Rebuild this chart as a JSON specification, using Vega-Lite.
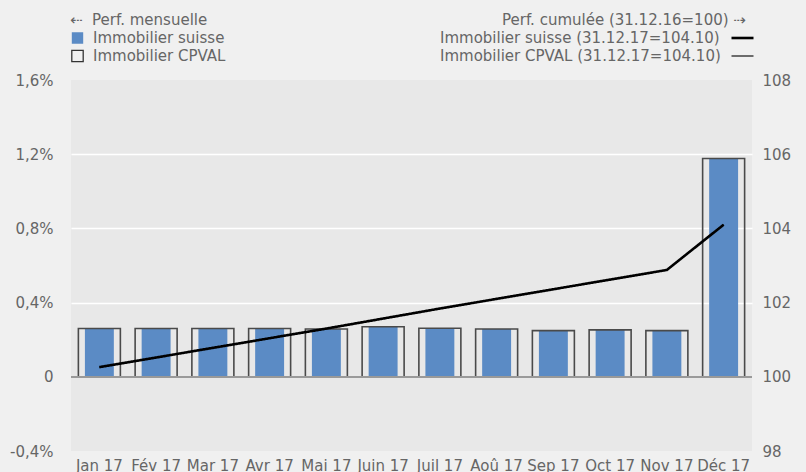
{
  "$schema": "https://vega.github.io/schema/vega-lite/v6.json",
  "width": 681,
  "height": 371,
  "autosize": {"type": "none"},
  "padding": {"left": 71, "top": 80, "right": 54, "bottom": 21},
  "background": "#f0f0f0",
  "config": {
    "font": "DejaVu Sans",
    "view": {"fill": "#e8e8e8", "stroke": null},
    "axis": {"labelFont": "DejaVu Sans", "labelFontSize": 15, "labelColor": "#666666", "domain": false, "ticks": false, "title": null},
    "legend": {"labelFont": "DejaVu Sans", "labelFontSize": 15, "labelColor": "#666666", "titleFont": "DejaVu Sans", "titleFontSize": 15, "titleColor": "#666666", "titleFontWeight": "normal", "clipHeight": 18, "rowPadding": 0, "titlePadding": 1, "labelLimit": 500, "titleLimit": 500}
  },
  "datasets": {
    "mensuel": [
      {"mois": "Jan 17", "produit": "Immobilier suisse", "perf": 0.0026},
      {"mois": "Fév 17", "produit": "Immobilier suisse", "perf": 0.0026},
      {"mois": "Mar 17", "produit": "Immobilier suisse", "perf": 0.0026},
      {"mois": "Avr 17", "produit": "Immobilier suisse", "perf": 0.0026},
      {"mois": "Mai 17", "produit": "Immobilier suisse", "perf": 0.00258},
      {"mois": "Juin 17", "produit": "Immobilier suisse", "perf": 0.0027},
      {"mois": "Juil 17", "produit": "Immobilier suisse", "perf": 0.0026},
      {"mois": "Aoû 17", "produit": "Immobilier suisse", "perf": 0.00258},
      {"mois": "Sep 17", "produit": "Immobilier suisse", "perf": 0.00249},
      {"mois": "Oct 17", "produit": "Immobilier suisse", "perf": 0.00253},
      {"mois": "Nov 17", "produit": "Immobilier suisse", "perf": 0.00249},
      {"mois": "Déc 17", "produit": "Immobilier suisse", "perf": 0.01177},
      {"mois": "Jan 17", "produit": "Immobilier CPVAL", "perf": 0.0026},
      {"mois": "Fév 17", "produit": "Immobilier CPVAL", "perf": 0.0026},
      {"mois": "Mar 17", "produit": "Immobilier CPVAL", "perf": 0.0026},
      {"mois": "Avr 17", "produit": "Immobilier CPVAL", "perf": 0.0026},
      {"mois": "Mai 17", "produit": "Immobilier CPVAL", "perf": 0.00258},
      {"mois": "Juin 17", "produit": "Immobilier CPVAL", "perf": 0.0027},
      {"mois": "Juil 17", "produit": "Immobilier CPVAL", "perf": 0.00262},
      {"mois": "Aoû 17", "produit": "Immobilier CPVAL", "perf": 0.00258},
      {"mois": "Sep 17", "produit": "Immobilier CPVAL", "perf": 0.00249},
      {"mois": "Oct 17", "produit": "Immobilier CPVAL", "perf": 0.00253},
      {"mois": "Nov 17", "produit": "Immobilier CPVAL", "perf": 0.00249},
      {"mois": "Déc 17", "produit": "Immobilier CPVAL", "perf": 0.01177}
    ],
    "cumule": [
      {"mois": "Jan 17", "indice": "suisse", "libelle": "Immobilier suisse (31.12.17=104.10)", "valeur": 100.26},
      {"mois": "Fév 17", "indice": "suisse", "libelle": "Immobilier suisse (31.12.17=104.10)", "valeur": 100.52},
      {"mois": "Mar 17", "indice": "suisse", "libelle": "Immobilier suisse (31.12.17=104.10)", "valeur": 100.78},
      {"mois": "Avr 17", "indice": "suisse", "libelle": "Immobilier suisse (31.12.17=104.10)", "valeur": 101.04},
      {"mois": "Mai 17", "indice": "suisse", "libelle": "Immobilier suisse (31.12.17=104.10)", "valeur": 101.30},
      {"mois": "Juin 17", "indice": "suisse", "libelle": "Immobilier suisse (31.12.17=104.10)", "valeur": 101.57},
      {"mois": "Juil 17", "indice": "suisse", "libelle": "Immobilier suisse (31.12.17=104.10)", "valeur": 101.84},
      {"mois": "Aoû 17", "indice": "suisse", "libelle": "Immobilier suisse (31.12.17=104.10)", "valeur": 102.10},
      {"mois": "Sep 17", "indice": "suisse", "libelle": "Immobilier suisse (31.12.17=104.10)", "valeur": 102.36},
      {"mois": "Oct 17", "indice": "suisse", "libelle": "Immobilier suisse (31.12.17=104.10)", "valeur": 102.62},
      {"mois": "Nov 17", "indice": "suisse", "libelle": "Immobilier suisse (31.12.17=104.10)", "valeur": 102.88},
      {"mois": "Déc 17", "indice": "suisse", "libelle": "Immobilier suisse (31.12.17=104.10)", "valeur": 104.10},
      {"mois": "Jan 17", "indice": "CPVAL", "libelle": "Immobilier CPVAL (31.12.17=104.10)", "valeur": 100.26},
      {"mois": "Fév 17", "indice": "CPVAL", "libelle": "Immobilier CPVAL (31.12.17=104.10)", "valeur": 100.52},
      {"mois": "Mar 17", "indice": "CPVAL", "libelle": "Immobilier CPVAL (31.12.17=104.10)", "valeur": 100.78},
      {"mois": "Avr 17", "indice": "CPVAL", "libelle": "Immobilier CPVAL (31.12.17=104.10)", "valeur": 101.04},
      {"mois": "Mai 17", "indice": "CPVAL", "libelle": "Immobilier CPVAL (31.12.17=104.10)", "valeur": 101.30},
      {"mois": "Juin 17", "indice": "CPVAL", "libelle": "Immobilier CPVAL (31.12.17=104.10)", "valeur": 101.57},
      {"mois": "Juil 17", "indice": "CPVAL", "libelle": "Immobilier CPVAL (31.12.17=104.10)", "valeur": 101.84},
      {"mois": "Aoû 17", "indice": "CPVAL", "libelle": "Immobilier CPVAL (31.12.17=104.10)", "valeur": 102.10},
      {"mois": "Sep 17", "indice": "CPVAL", "libelle": "Immobilier CPVAL (31.12.17=104.10)", "valeur": 102.36},
      {"mois": "Oct 17", "indice": "CPVAL", "libelle": "Immobilier CPVAL (31.12.17=104.10)", "valeur": 102.62},
      {"mois": "Nov 17", "indice": "CPVAL", "libelle": "Immobilier CPVAL (31.12.17=104.10)", "valeur": 102.88},
      {"mois": "Déc 17", "indice": "CPVAL", "libelle": "Immobilier CPVAL (31.12.17=104.10)", "valeur": 104.10}
    ]
  },
  "encoding": {
    "x": {
      "field": "mois",
      "type": "ordinal",
      "sort": ["Jan 17", "Fév 17", "Mar 17", "Avr 17", "Mai 17", "Juin 17", "Juil 17", "Aoû 17", "Sep 17", "Oct 17", "Nov 17", "Déc 17"],
      "scale": {"paddingInner": 0, "paddingOuter": 0},
      "axis": {"labelAngle": 0, "labelPadding": 7, "grid": false, "labelFontSize": 15}
    }
  },
  "layer": [
    {
      "data": {"name": "mensuel"},
      "layer": [
        {
          "transform": [{"filter": "datum.produit == 'Immobilier suisse'"}],
          "mark": {"type": "bar", "width": {"band": 0.51}},
          "encoding": {
            "y": {
              "field": "perf", "type": "quantitative",
              "scale": {"domain": [-0.004, 0.016], "nice": false, "zero": false},
              "axis": {
                "values": [-0.004, 0, 0.004, 0.008, 0.012, 0.016],
                "labelExpr": "datum.value == 0 ? '0' : replace(replace(format(datum.value, '.1%'), '.', ','), '−', '-')",
                "labelPadding": 18,
                "gridColor": "#ffffff", "gridWidth": 1.5,
                "gridOpacity": {"condition": {"test": "datum.value > 0.015 || datum.value < -0.003 || datum.value == 0", "value": 0}, "value": 1},
                "labelBaseline": "middle"
              }
            },
            "fill": {
              "field": "produit", "type": "nominal",
              "scale": {"domain": ["Immobilier suisse", "Immobilier CPVAL"], "range": ["#5b8bc5", "transparent"]},
              "legend": {
                "title": "⇠\u00a0 Perf. mensuelle",
                "orient": "none", "legendX": -1, "legendY": -67,
                "symbolType": "square", "symbolSize": 130, "symbolStrokeWidth": 1.3,
                "labelOffset": 8
              }
            },
            "stroke": {
              "field": "produit", "type": "nominal",
              "scale": {"domain": ["Immobilier suisse", "Immobilier CPVAL"], "range": ["transparent", "#333333"]},
              "legend": {
                "title": "⇠\u00a0 Perf. mensuelle",
                "orient": "none", "legendX": -1, "legendY": -67,
                "symbolType": "square", "symbolSize": 130, "symbolStrokeWidth": 1.3,
                "labelOffset": 8
              }
            }
          }
        },
        {
          "transform": [{"filter": "datum.produit == 'Immobilier CPVAL'"}],
          "mark": {"type": "bar", "width": {"band": 0.74}, "fill": null, "fillOpacity": 0, "stroke": "#4a4a4a", "strokeWidth": 1.6},
          "encoding": {
            "y": {"field": "perf", "type": "quantitative"}
          }
        },
        {
          "mark": {"type": "rule", "color": "#9a9a9a", "strokeWidth": 1.3},
          "encoding": {"y": {"datum": 0, "type": "quantitative"}, "x": {"value": 0}, "x2": {"value": 681}}
        }
      ]
    },
    {
      "data": {"name": "cumule"},
      "mark": {"type": "line", "color": "#000000"},
      "encoding": {
        "y": {
          "field": "valeur", "type": "quantitative",
          "scale": {"domain": [98, 108], "nice": false, "zero": false},
          "axis": {"orient": "right", "values": [98, 100, 102, 104, 106, 108], "grid": false, "labelPadding": 10, "labelBaseline": "middle"}
        },
        "strokeWidth": {
          "field": "indice", "type": "nominal",
          "scale": {"domain": ["suisse", "CPVAL"], "range": [2.6, 1.1]},
          "legend": {
            "title": null,
            "orient": "none", "legendX": 659, "legendY": -51,
            "symbolType": "stroke", "symbolSize": 484, "symbolStrokeColor": "#000000",
            "labelExpr": "''"
          }
        },
        "strokeDash": {
          "field": "indice", "type": "nominal",
          "scale": {"domain": ["CPVAL", "suisse"], "range": [[1, 0], [1, 0]]},
          "legend": {
            "title": "Perf. cumulée (31.12.16=100) ⇢",
            "orient": "none", "legendX": 431, "legendY": -67,
            "symbolSize": 0, "symbolOpacity": 0, "labelExpr": "''"
          }
        },
        "opacity": {
          "field": "libelle", "type": "nominal",
          "scale": {"domain": ["Immobilier suisse (31.12.17=104.10)", "Immobilier CPVAL (31.12.17=104.10)"], "range": [1, 1]},
          "legend": {
            "title": null,
            "orient": "none", "legendX": 354, "legendY": -51,
            "symbolSize": 0, "labelOffset": 0
          }
        }
      }
    }
  ],
  "resolve": {"scale": {"y": "independent"}}
}
